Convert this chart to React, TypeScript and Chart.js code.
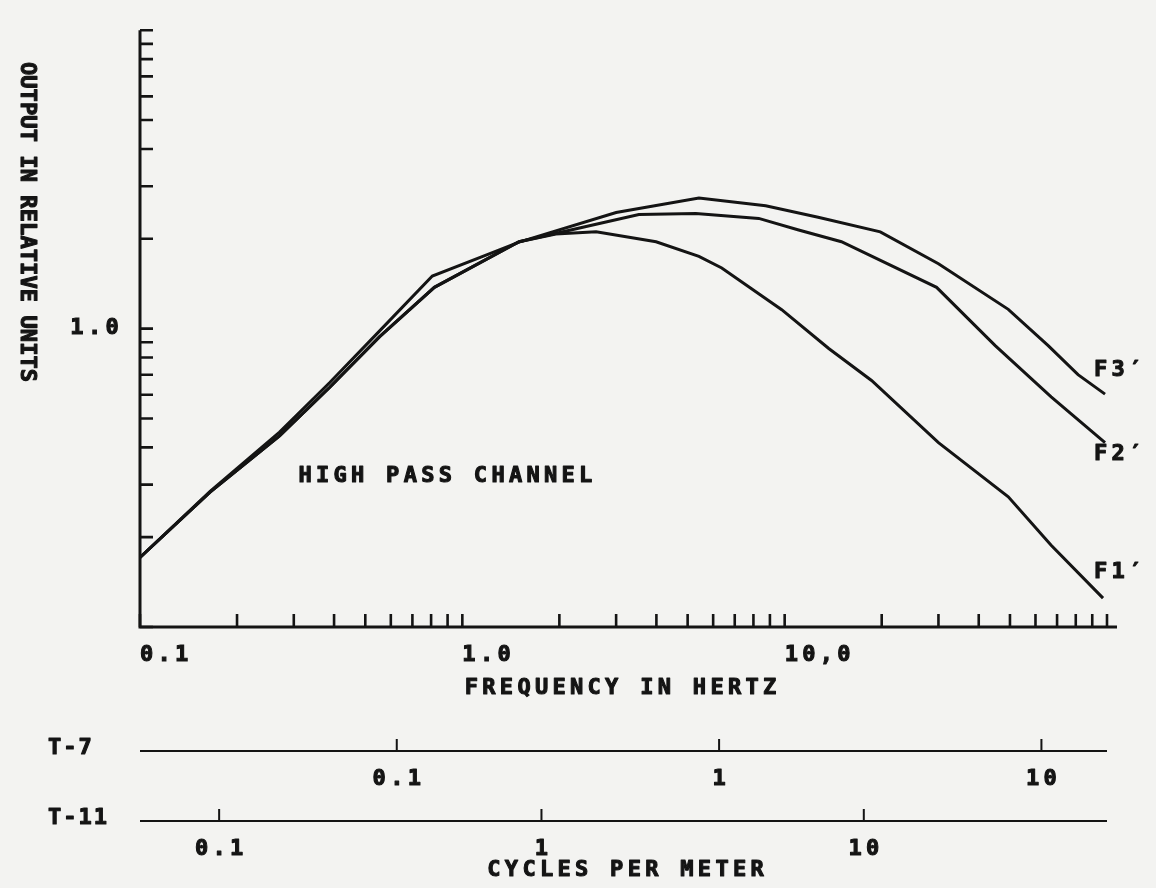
import React, { useEffect, useRef } from 'react';
import { Chart, registerables } from 'chart.js';

Chart.register(...registerables);

// ---------- data ----------
const F3_HZ = [0.1, 0.165, 0.271, 0.388, 0.553, 0.807, 1.195, 1.5, 3.0, 5.42, 8.73, 12.7, 19.8, 30.0, 49.4, 65.7, 81.3, 98.6];
const F3_OUT = [0.171, 0.285, 0.45, 0.66, 0.981, 1.5, 1.77, 1.95, 2.45, 2.74, 2.58, 2.36, 2.11, 1.65, 1.16, 0.877, 0.701, 0.603];

const F2_HZ = [0.1, 0.165, 0.271, 0.388, 0.553, 0.819, 1.5, 3.53, 5.3, 8.31, 11.05, 15.0, 29.6, 45.0, 67.1, 98.6];
const F2_OUT = [0.171, 0.283, 0.437, 0.636, 0.938, 1.375, 1.955, 2.41, 2.43, 2.34, 2.14, 1.955, 1.375, 0.877, 0.59, 0.415];

const F1_HZ = [0.1, 0.165, 0.271, 0.388, 0.553, 0.819, 1.5, 1.95, 2.6, 3.99, 5.42, 6.38, 9.79, 13.7, 18.6, 30.0, 49.4, 67.1, 97.2];
const F1_OUT = [0.171, 0.283, 0.437, 0.636, 0.938, 1.375, 1.955, 2.075, 2.11, 1.955, 1.747, 1.597, 1.157, 0.858, 0.67, 0.415, 0.273, 0.188, 0.125];

const SERIES_NAMES = ['F3\u2032', 'F2\u2032', 'F1\u2032'];
const SERIES_LABEL_OUT = [0.727, 0.379, 0.153];

const X_MIN = 0.1;
const X_MAX = 100;
const Y_MIN = 0.1;
const Y_MAX = 10;
const X_TICKS = [0.1, 0.2, 0.3, 0.4, 0.5, 0.6, 0.7, 0.8, 0.9, 1, 2, 3, 4, 5, 6, 7, 8, 9, 10, 20, 30, 40, 50, 60, 70, 80, 90, 100];
const X_LABEL_VALUES = [0.1, 1, 10];
const X_LABELS = ['0.1', '1.0', '10,0'];
const Y_TICKS = [0.1, 0.2, 0.3, 0.4, 0.5, 0.6, 0.7, 0.8, 0.9, 1, 2, 3, 4, 5, 6, 7, 8, 9, 10];
const Y_LABEL_VALUES = [1];
const Y_LABELS = ['1.0'];

const T7_HZ_PER_CPM = 6.26;
const T11_HZ_PER_CPM = 1.76;
const T7_TICKS = [0.1, 1, 10];
const T7_LABELS = ['0.1', '1', '10'];
const T11_TICKS = [0.1, 1, 10];
const T11_LABELS = ['0.1', '1', '10'];

const X_TITLE = 'FREQUENCY IN HERTZ';
const Y_TITLE = 'OUTPUT IN RELATIVE UNITS';
const CPM_TITLE = 'CYCLES PER METER';
const NOTE = 'HIGH PASS CHANNEL';
const NOTE_HZ = 0.31;
const NOTE_OUT = 0.32;

// ---------- style ----------
const FONT = "'DejaVu Sans Mono', 'Liberation Mono', monospace";
const FS = 22;
const SPACING = 4.3;
const STROKE = 1.1;
const INK = '#141414';
const PAPER = '#f3f3f1';

const fontStr = (size: number) => `bold ${size}px ${FONT}`;

const drawText = (ctx: CanvasRenderingContext2D, text: string, x: number, y: number, align: CanvasTextAlign, spacing = SPACING) => {
  ctx.save();
  (ctx as any).letterSpacing = `${spacing}px`;
  ctx.font = fontStr(FS);
  ctx.fillStyle = INK;
  ctx.strokeStyle = INK;
  ctx.lineWidth = STROKE;
  ctx.lineJoin = 'round';
  ctx.textBaseline = 'middle';
  const w = ctx.measureText(text).width - spacing;
  let sx = x;
  if (align === 'center') sx = x - w / 2;
  else if (align === 'right') sx = x - w;
  ctx.textAlign = 'left';
  ctx.fillText(text, sx, y);
  ctx.strokeText(text, sx, y);
  ctx.restore();
};

const decorations = {
  id: 'decorations',
  beforeDraw(chart: any) {
    (chart.ctx as any).letterSpacing = `${SPACING}px`;
  },
  afterDraw(chart: any) {
    const ctx: CanvasRenderingContext2D = chart.ctx;
    const xs = chart.scales.x;
    const ys = chart.scales.y;
    const left = xs.left;
    const right = xs.right;
    const top = ys.top;
    const bottom = ys.bottom;
    ctx.save();
    ctx.strokeStyle = INK;
    ctx.lineCap = 'butt';
    ctx.lineWidth = 3;
    ctx.beginPath();
    ctx.moveTo(left, top);
    ctx.lineTo(left, bottom);
    ctx.lineTo(right + 10, bottom);
    ctx.stroke();
    ctx.lineWidth = 2.6;
    ctx.beginPath();
    X_TICKS.forEach((v) => {
      const px = xs.getPixelForValue(v);
      ctx.moveTo(px, bottom);
      ctx.lineTo(px, bottom - 13);
    });
    Y_TICKS.forEach((v) => {
      const py = ys.getPixelForValue(v);
      ctx.moveTo(left, py);
      ctx.lineTo(left + 13, py);
    });
    ctx.stroke();

    // secondary spatial-frequency scales
    const drawCpm = (y: number, factor: number, ticks: number[], labels: string[], name: string) => {
      ctx.lineWidth = 2;
      ctx.beginPath();
      ctx.moveTo(left, y);
      ctx.lineTo(right, y);
      ticks.forEach((t) => {
        const px = xs.getPixelForValue(t * factor);
        ctx.moveTo(px, y);
        ctx.lineTo(px, y - 12);
      });
      ctx.stroke();
      ticks.forEach((t, i) => {
        const px = xs.getPixelForValue(t * factor);
        drawText(ctx, labels[i], px, y + 28, 'center');
      });
      drawText(ctx, name, left - 92, y - 3, 'left', 2);
    };
    drawCpm(bottom + 124, T7_HZ_PER_CPM, T7_TICKS, T7_LABELS, 'T-7');
    drawCpm(bottom + 194, T11_HZ_PER_CPM, T11_TICKS, T11_LABELS, 'T-11');

    const cx = (left + right) / 2;
    drawText(ctx, X_TITLE, cx - 3, bottom + 61, 'center');
    drawText(ctx, CPM_TITLE, cx + 2, bottom + 243, 'center');

    // y title, rotated clockwise
    ctx.save();
    ctx.translate(27, 222);
    ctx.rotate(Math.PI / 2);
    drawText(ctx, Y_TITLE, 0, 0, 'center', 0.1);
    ctx.restore();

    drawText(ctx, NOTE, xs.getPixelForValue(NOTE_HZ), ys.getPixelForValue(NOTE_OUT), 'left');
    SERIES_NAMES.forEach((n, i) => {
      drawText(ctx, n, right - 13, ys.getPixelForValue(SERIES_LABEL_OUT[i]), 'left');
    });
    ctx.restore();
  },
};

const toPoints = (xs: number[], ys: number[]) => xs.map((x, i) => ({ x, y: ys[i] }));

export default function App() {
  const ref = useRef<HTMLCanvasElement>(null);
  useEffect(() => {
    if (!ref.current) return;
    const lineStyle = { borderColor: INK, borderWidth: 3, pointRadius: 0, tension: 0, fill: false };
    const tickFont = { family: FONT, size: FS, weight: 'bold' };
    const chart = new Chart(ref.current, {
      type: 'line',
      data: {
        datasets: [
          { label: SERIES_NAMES[0], data: toPoints(F3_HZ, F3_OUT), ...lineStyle },
          { label: SERIES_NAMES[1], data: toPoints(F2_HZ, F2_OUT), ...lineStyle },
          { label: SERIES_NAMES[2], data: toPoints(F1_HZ, F1_OUT), ...lineStyle },
        ],
      },
      options: {
        animation: false,
        responsive: false,
        maintainAspectRatio: false,
        layout: { padding: { top: 12, right: 49, left: 0, bottom: 0 } },
        plugins: { legend: { display: false }, tooltip: { enabled: false } },
        scales: {
          x: {
            type: 'logarithmic',
            min: X_MIN,
            max: X_MAX,
            position: 'bottom',
            afterBuildTicks: (s: any) => {
              s.ticks = X_TICKS.map((v) => ({ value: v }));
            },
            afterFit: (s: any) => {
              s.height = 261;
            },
            grid: { display: false, drawTicks: false },
            border: { display: false },
            ticks: {
              autoSkip: false,
              maxRotation: 0,
              minRotation: 0,
              align: 'start',
              padding: 15,
              color: INK,
              textStrokeColor: INK,
              textStrokeWidth: STROKE,
              font: tickFont,
              callback: (v: any) => {
                const i = X_LABEL_VALUES.indexOf(Number(v));
                return i >= 0 ? X_LABELS[i] : '';
              },
            },
          },
          y: {
            type: 'logarithmic',
            min: Y_MIN,
            max: Y_MAX,
            position: 'left',
            afterBuildTicks: (s: any) => {
              s.ticks = Y_TICKS.map((v) => ({ value: v }));
            },
            afterFit: (s: any) => {
              s.width = 140;
            },
            grid: { display: false, drawTicks: false },
            border: { display: false },
            ticks: {
              autoSkip: false,
              padding: 17,
              color: INK,
              textStrokeColor: INK,
              textStrokeWidth: STROKE,
              font: tickFont,
              callback: (v: any) => {
                const i = Y_LABEL_VALUES.indexOf(Number(v));
                return i >= 0 ? Y_LABELS[i] : '';
              },
            },
          },
        },
      } as any,
      plugins: [decorations],
    });
    return () => chart.destroy();
  }, []);
  return (
    <div style={{ position: 'fixed', left: 0, top: 0, width: 1156, height: 888, background: PAPER }}>
      <canvas ref={ref} width={1156} height={888} style={{ display: 'block', width: 1156, height: 888 }} />
    </div>
  );
}
